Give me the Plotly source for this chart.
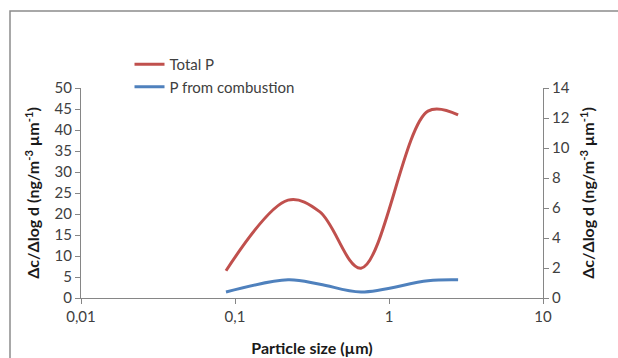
import plotly.graph_objects as go

# Data
particle_size = [0.0874, 0.221, 0.356, 0.658, 1.79, 2.81]
total_p = [6.5, 23.3, 20.5, 7.1, 44.5, 43.6]              # left axis (0-50)
p_combustion = [0.40, 1.21, 0.92, 0.40, 1.15, 1.21]        # right axis (0-14)

x_tickvals = [0.01, 0.1, 1, 10]
x_ticktext = ["0,01", "0,1", "1", "10"]

FONT = "Lato, 'Open Sans', sans-serif"
AXIS_COL = "#868686"
TEXT_COL = "#404040"
TITLE_COL = "#1a1a1a"

fig = go.Figure()
fig.add_trace(go.Scatter(
    x=particle_size, y=total_p, name="Total P", mode="lines",
    line=dict(color="#C0504D", width=3, shape="spline", smoothing=1.0),
))
fig.add_trace(go.Scatter(
    x=particle_size, y=p_combustion, name="P from combustion", mode="lines",
    yaxis="y2",
    line=dict(color="#4F81BD", width=3, shape="spline", smoothing=1.0),
))

# frame: only left and top edges are visible in the reference
fx0 = (10 - 81) / 462
fx1 = (700 - 81) / 462
fy0 = (298 - 420) / 210
fy1 = (298 - 11) / 210
frame_path = f"M {fx0},{fy0} L {fx0},{fy1} L {fx1},{fy1}"

# plot area at x 81..543, y 88..298
fig.update_layout(
    width=618, height=358,
    margin=dict(l=81, r=75, t=88, b=60, autoexpand=False),
    paper_bgcolor="white", plot_bgcolor="white",
    font=dict(family=FONT, size=15, color=TEXT_COL),
    showlegend=True,
    legend=dict(
        x=0.105, y=1.19, xanchor="left", yanchor="top",
        bgcolor="rgba(0,0,0,0)", font=dict(size=15, color=TEXT_COL),
        tracegroupgap=0, itemwidth=30,
    ),
    xaxis=dict(
        type="log", range=[-2, 1], automargin=False,
        tickvals=x_tickvals, ticktext=x_ticktext,
        showgrid=False, zeroline=False,
        showline=True, linecolor=AXIS_COL, linewidth=1,
        ticks="outside", ticklen=5, tickcolor=AXIS_COL,
        tickfont=dict(size=15, color=TEXT_COL),
        title=dict(text="<b>Particle size (µm)</b>", font=dict(size=16, color=TITLE_COL), standoff=18),
    ),
    yaxis=dict(
        range=[0, 50], tickvals=list(range(0, 51, 5)), automargin=False,
        showgrid=False, zeroline=False,
        showline=True, linecolor=AXIS_COL, linewidth=1,
        ticks="outside", ticklen=5, tickcolor=AXIS_COL,
        tickfont=dict(size=15, color=TEXT_COL),
        title=dict(text="<b>Δc/Δlog d (ng/m<sup>-3</sup> µm<sup>-1</sup>)</b>",
                   font=dict(size=16, color=TITLE_COL), standoff=10),
    ),
    yaxis2=dict(
        overlaying="y", side="right", automargin=False,
        range=[0, 14], tickvals=list(range(0, 15, 2)),
        showgrid=False, zeroline=False,
        showline=True, linecolor=AXIS_COL, linewidth=1,
        ticks="outside", ticklen=5, tickcolor=AXIS_COL,
        tickfont=dict(size=15, color=TEXT_COL),
        title=dict(text="<b>Δc/Δlog d (ng/m<sup>-3</sup> µm<sup>-1</sup>)</b>",
                   font=dict(size=16, color=TITLE_COL), standoff=14),
    ),
    shapes=[dict(
        type="path", xref="paper", yref="paper", path=frame_path,
        line=dict(color="#8c8c8c", width=1.5), layer="below",
    )],
)

fig.write_html(
    "out.html",
    config={"displayModeBar": False},
    post_script="document.body.style.margin='0';document.body.style.overflow='hidden';",
)
